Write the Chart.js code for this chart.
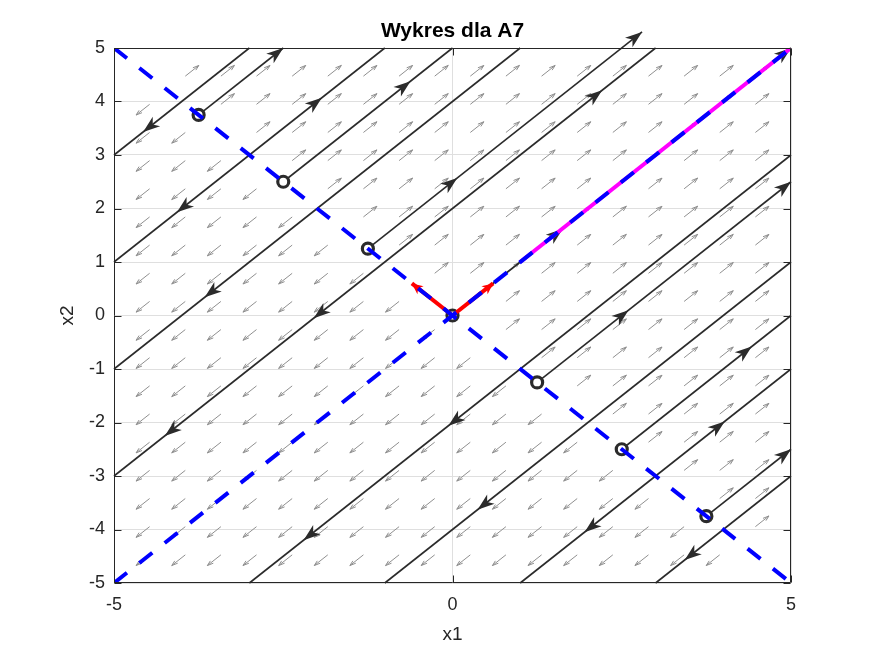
<!DOCTYPE html>
<html>
<head>
<meta charset="utf-8">
<script src="https://cdn.jsdelivr.net/npm/chart.js@4/dist/chart.umd.min.js"></script>
<style>
  html, body { margin: 0; padding: 0; background: #fff; }
</style>
</head>
<body>
<canvas id="grafica" width="875" height="656"></canvas>
<script>
// siatka pola kierunkowego (linspace(-5,5,20))
const siatka = [-5, -4.474, -3.947, -3.421, -2.895, -2.368, -1.842, -1.316, -0.789, -0.263,
                0.263, 0.789, 1.316, 1.842, 2.368, 2.895, 3.421, 3.947, 4.474, 5];
const dlugoscStrzalki = 0.2;

// trajektorie: początek i koniec
const trajX0 = [-5, -3.75, -5, -2.5, -5, -1.25, -5, 0, -3, 1.25, -1, 2.5, 1, 3.75, 3];
const trajY0 = [3, 3.75, 1, 2.5, -1, 1.25, -3, 0, -5, -1.25, -5, -2.5, -5, -3.75, -5];
const trajX1 = [-3, -2.5, -1, 0, 1, 2.8, 3, 5, 5, 5, 5, 5, 5, 5, 5];
const trajY1 = [5, 5, 5, 5, 5, 5.3, 5, 5, 3, 2.5, 1, 0, -1, -2.5, -3];

// groty na trajektoriach (1 = w górę-prawo, -1 = w dół-lewo)
const grotX = [-4.57, -4.07, -3.66, -4.25, -2.05, -2.2, -0.06, 0.37, 1.95, 3.43,
               -2.5, -1.93, -0.62, 0.07, 2.8, 2.21, 1.63, 5, 2.6, 5, 4.42, 4.02, 5];
const grotY = [3.43, 1.93, 0.34, -2.25, -0.05, -4.2, -2.06, -3.63, -4.05, -4.57,
               5, 4.07, 4.38, 2.57, 5.3, 4.21, 1.62, 5, 0.1, 2.5, -0.58, -1.98, -2.5];
const grotKier = [-1, -1, -1, -1, -1, -1, -1, -1, -1, -1,
                  1, 1, 1, 1, 1, 1, 1, 1, 1, 1, 1, 1, 1];

// punkty równowagi
const rownX = [-3.75, -2.5, -1.25, 0, 1.25, 2.5, 3.75];
const rownY = [3.75, 2.5, 1.25, 0, -1.25, -2.5, -3.75];

// kierunki własne (niebieskie), rozmaitość niestabilna (magenta), wektory własne (czerwone)
const wlasneX = [[-5, 5], [-5, 5]];
const wlasneY = [[-5, 5], [5, -5]];
const magentaX = [1, 5];
const magentaY = [1, 5];
const wektoryX = [[0, 0.6], [0, -0.6]];
const wektoryY = [[0, 0.6], [0, 0.6]];

const czcionka = "'Liberation Sans', Arial, Helvetica, sans-serif";
const kolorTraj = '#2b2b2b';

function rysujGrot(ctx, px, py, kat, dl, sz, kolor) {
    ctx.save();
    ctx.translate(px, py);
    ctx.rotate(kat);
    ctx.beginPath();
    ctx.moveTo(0, 0);
    ctx.lineTo(-dl, -sz);
    ctx.lineTo(-dl * 0.72, 0);
    ctx.lineTo(-dl, sz);
    ctx.closePath();
    ctx.fillStyle = kolor;
    ctx.fill();
    ctx.restore();
}

function katKierunku(sx, sy, x0, y0, dx, dy) {
    const a = sx.getPixelForValue(x0 - dx), b = sy.getPixelForValue(y0 - dy);
    const c = sx.getPixelForValue(x0), d = sy.getPixelForValue(y0);
    return Math.atan2(d - b, c - a);
}

const pluginPole = {
    id: 'poleKierunkowe',
    beforeDatasetsDraw(chart) {
        const { ctx, chartArea: a, scales: { x, y } } = chart;
        ctx.save();
        ctx.beginPath();
        ctx.rect(a.left, a.top, a.right - a.left, a.bottom - a.top);
        ctx.clip();
        ctx.strokeStyle = '#8f8f8f';
        ctx.lineWidth = 1;
        ctx.beginPath();
        for (const xi of siatka) {
            for (const yj of siatka) {
                const s = Math.sign(xi + yj);
                if (s === 0) continue;
                const u = s * dlugoscStrzalki, v = s * dlugoscStrzalki;
                const hx = xi + u, hy = yj + v;
                ctx.moveTo(x.getPixelForValue(xi), y.getPixelForValue(yj));
                ctx.lineTo(x.getPixelForValue(hx), y.getPixelForValue(hy));
                ctx.moveTo(x.getPixelForValue(hx - 0.33 * (u + 0.33 * v)), y.getPixelForValue(hy - 0.33 * (v - 0.33 * u)));
                ctx.lineTo(x.getPixelForValue(hx), y.getPixelForValue(hy));
                ctx.lineTo(x.getPixelForValue(hx - 0.33 * (u - 0.33 * v)), y.getPixelForValue(hy - 0.33 * (v + 0.33 * u)));
            }
        }
        ctx.stroke();
        ctx.restore();
    },
    beforeDatasetDraw(chart, args) {
        const ds = chart.data.datasets[args.index];
        if (ds.rola !== 'punkty') return;
        const { ctx, scales: { x, y } } = chart;
        grotX.forEach((gx, i) => {
            const k = grotKier[i];
            const kat = katKierunku(x, y, gx, grotY[i], 0.1 * k, 0.1 * k);
            rysujGrot(ctx, x.getPixelForValue(gx), y.getPixelForValue(grotY[i]), kat, 17, 6, kolorTraj);
        });
    },
    afterDatasetDraw(chart, args) {
        const ds = chart.data.datasets[args.index];
        if (ds.rola !== 'wektor') return;
        const { ctx, scales: { x, y } } = chart;
        const p0 = ds.data[0], p1 = ds.data[1];
        const kat = katKierunku(x, y, p1.x, p1.y, p1.x - p0.x, p1.y - p0.y);
        rysujGrot(ctx, x.getPixelForValue(p1.x), y.getPixelForValue(p1.y), kat, 11, 5, '#ff0000');
    },
    afterDraw(chart) {
        const { ctx, chartArea: a, scales: { x, y } } = chart;
        const L = Math.round(a.left) + 0.5, R = Math.round(a.right) - 0.5;
        const T = Math.round(a.top) + 0.5, B = Math.round(a.bottom) - 0.5;
        ctx.save();
        ctx.strokeStyle = '#262626';
        ctx.lineWidth = 1;
        ctx.beginPath();
        ctx.rect(L, T, R - L, B - T);
        y.ticks.forEach(t => {
            const p = Math.round(y.getPixelForValue(t.value)) + 0.5;
            ctx.moveTo(L, p); ctx.lineTo(L + 7, p);
            ctx.moveTo(R, p); ctx.lineTo(R - 7, p);
        });
        x.ticks.forEach(t => {
            const p = Math.round(x.getPixelForValue(t.value)) + 0.5;
            ctx.moveTo(p, B); ctx.lineTo(p, B - 7);
            ctx.moveTo(p, T); ctx.lineTo(p, T + 7);
        });
        ctx.stroke();
        ctx.restore();
    }
};

const zbiory = [];
trajX0.forEach((x0, i) => {
    zbiory.push({
        data: [{ x: x0, y: trajY0[i] }, { x: trajX1[i], y: trajY1[i] }],
        showLine: true, borderColor: kolorTraj, borderWidth: 1.6,
        pointRadius: 0, clip: false, order: 50
    });
});
zbiory.push({
    rola: 'punkty',
    data: rownX.map((x, i) => ({ x: x, y: rownY[i] })),
    showLine: false, pointRadius: 5.5, pointBorderWidth: 3.2,
    pointBorderColor: kolorTraj, pointBackgroundColor: '#ffffff', order: 40
});
zbiory.push({
    data: magentaX.map((x, i) => ({ x: x, y: magentaY[i] })),
    showLine: true, borderColor: '#ff00ff', borderWidth: 4, pointRadius: 0, order: 30
});
wektoryX.forEach((wx, j) => {
    zbiory.push({
        rola: 'wektor',
        data: wx.map((x, i) => ({ x: x, y: wektoryY[j][i] })),
        showLine: true, borderColor: '#ff0000', borderWidth: 4, pointRadius: 0, order: 20
    });
});
wlasneX.forEach((wx, j) => {
    zbiory.push({
        data: wx.map((x, i) => ({ x: x, y: wlasneY[j][i] })),
        showLine: true, borderColor: '#0000ff', borderWidth: 4, borderDash: [16.5, 15.8],
        borderCapStyle: 'butt', pointRadius: 0, order: 10
    });
});

const wykres = new Chart(document.getElementById('grafica'), {
    type: 'scatter',
    data: { datasets: zbiory },
    options: {
        responsive: false,
        animation: false,
        events: [],
        layout: { padding: { left: 0, right: 84, top: 0, bottom: 0 } },
        plugins: {
            legend: { display: false },
            tooltip: { enabled: false },
            title: {
                display: true, text: 'Wykres dla A7', fullSize: false, color: '#000',
                font: { family: czcionka, size: 21, weight: 'bold' },
                padding: { top: 19, bottom: 3.8 }
            }
        },
        scales: {
            x: {
                type: 'linear', min: -5, max: 5,
                ticks: { stepSize: 5, color: '#262626', padding: 11, font: { family: czcionka, size: 18 } },
                grid: { color: '#dfdfdf', drawTicks: false },
                border: { display: false },
                title: { display: true, text: 'x1', color: '#262626', font: { family: czcionka, size: 19 }, padding: { top: 0, bottom: 9.6 } },
                afterFit: s => { s.height = 73; }
            },
            y: {
                type: 'linear', min: -5, max: 5,
                ticks: { stepSize: 1, color: '#262626', padding: 9, font: { family: czcionka, size: 18 } },
                grid: { color: '#dfdfdf', drawTicks: false },
                border: { display: false },
                title: { display: true, text: 'x2', color: '#262626', font: { family: czcionka, size: 19 }, padding: { top: 56.6, bottom: 0 } },
                afterFit: s => { s.width = 114; }
            }
        }
    },
    plugins: [pluginPole]
});
</script>
</body>
</html>
